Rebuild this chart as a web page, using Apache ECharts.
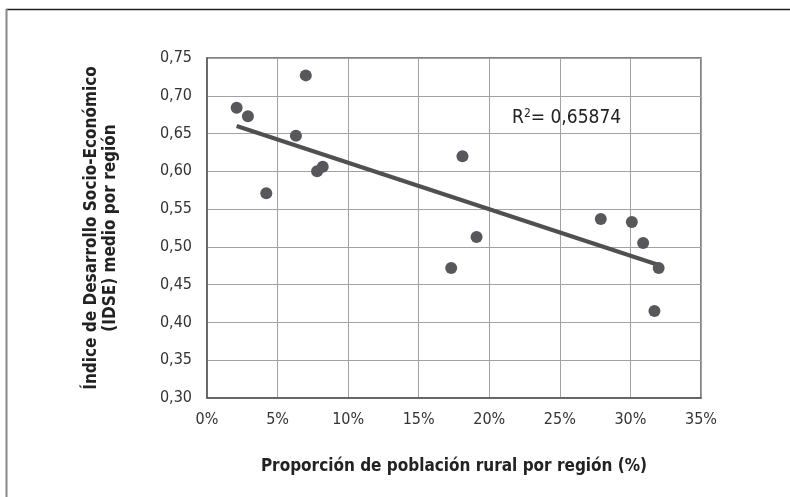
<!DOCTYPE html>
<html>
<head>
<meta charset="utf-8">
<script src="https://cdn.jsdelivr.net/npm/echarts@6/dist/echarts.min.js"></script>
<style>
html,body{margin:0;padding:0;background:#fff;}
#chart{width:790px;height:497px;}
</style>
</head>
<body>
<div id="chart"></div>
<script>
// Data
const ruralPct = [2.1, 2.9, 4.2, 7.0, 6.3, 7.8, 8.2, 18.1, 17.3, 19.1, 27.9, 30.1, 30.9, 32.0, 31.7];
const idse     = [0.684, 0.673, 0.571, 0.727, 0.647, 0.600, 0.606, 0.620, 0.472, 0.513, 0.537, 0.533, 0.505, 0.472, 0.415];
const trendX = [2.1, 32.0];
const trendY = [0.660, 0.476];
const r2Text = '0,65874';
const xTitle = 'Proporción de población rural por región (%)';
const yTitle = 'Índice de Desarrollo Socio-Económico\n(IDSE) medio por región';

const FONT = '"Liberation Sans Narrow", "DejaVu Sans Condensed", sans-serif';

const points = ruralPct.map((x, i) => [x, idse[i]]);
const trend = trendX.map((x, i) => [x, trendY[i]]);

const chart = echarts.init(document.getElementById('chart'), null, {renderer: 'canvas'});
chart.setOption({
  animation: false,
  backgroundColor: '#fff',
  grid: {left: 207, right: 89, top: 58, bottom: 99, show: true, borderColor: '#5a5a5a', borderWidth: 1.5},
  xAxis: {
    type: 'value', min: 0, max: 35, interval: 5,
    name: xTitle, nameLocation: 'middle', nameGap: 60,
    nameTextStyle: {fontFamily: FONT, fontWeight: 'bold', fontSize: 17, color: '#222'},
    axisLine: {show: true, lineStyle: {color: '#5a5a5a', width: 1.5}},
    axisTick: {show: false},
    axisLabel: {fontFamily: FONT, fontSize: 16, color: '#333', margin: 14, formatter: v => v + '%'},
    splitLine: {show: true, lineStyle: {color: '#a2a2a2', width: 1}}
  },
  yAxis: {
    type: 'value', min: 0.3, max: 0.75, interval: 0.05,
    name: yTitle, nameLocation: 'middle', nameGap: 87, nameRotate: 90,
    nameTextStyle: {fontFamily: FONT, fontWeight: 'bold', fontSize: 17, color: '#222', lineHeight: 19},
    axisLine: {show: true, lineStyle: {color: '#5a5a5a', width: 1.5}},
    axisTick: {show: false},
    axisLabel: {fontFamily: FONT, fontSize: 16, color: '#333', margin: 15, formatter: v => v.toFixed(2).replace('.', ',')},
    splitLine: {show: true, lineStyle: {color: '#a2a2a2', width: 1}}
  },
  series: [
    {
      type: 'line', data: trend, symbol: 'none', silent: true,
      lineStyle: {color: '#505050', width: 4}, z: 2
    },
    {
      type: 'scatter', data: points, symbol: 'circle', symbolSize: 12,
      itemStyle: {color: '#58585c', opacity: 1}, z: 3
    }
  ],
  graphic: [
    {type: 'line', shape: {x1: 6, y1: 9.5, x2: 790, y2: 9.5}, style: {stroke: '#222', lineWidth: 1.5}},
    {type: 'line', shape: {x1: 6.5, y1: 9, x2: 6.5, y2: 497}, style: {stroke: '#888', lineWidth: 2}},
    {
      type: 'text', left: 512, top: 108,
      style: {
        text: '{a|R}{s|2}{a|= ' + r2Text + '}',
        rich: {
          a: {fontFamily: FONT, fontSize: 19, fill: '#222', verticalAlign: 'bottom'},
          s: {fontFamily: FONT, fontSize: 12, fill: '#222', verticalAlign: 'top', padding: [0, 0, 8, 0]}
        }
      }
    }
  ]
});
</script>
</body>
</html>
